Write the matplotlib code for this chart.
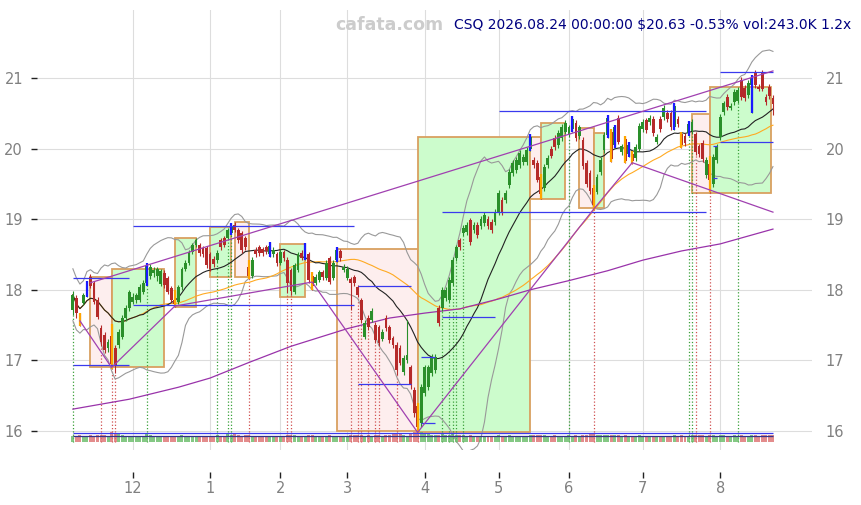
import numpy as np
import pandas as pd
import matplotlib.pyplot as plt
from matplotlib.patches import Rectangle

# -----------------------------
# Trading days (NYSE holidays removed)
# -----------------------------
holidays = ["2025-11-27", "2025-12-25", "2026-01-01", "2026-01-19", "2026-02-16",
            "2026-04-03", "2026-05-25", "2026-06-19", "2026-07-03"]
dates = pd.bdate_range("2025-11-05", "2026-08-24")
dates = dates[~dates.isin(pd.to_datetime(holidays))]

# -----------------------------
# Daily OHLC + volume (K)
# -----------------------------
opens = [
    17.72, 17.88, 17.62, 17.82, 17.93, 18.18, 18.10, 17.86, 17.46, 17.36,
    17.18, 17.35, 17.18, 17.22, 17.33, 17.60, 17.74, 17.83, 17.86, 17.86,
    17.97, 18.10, 18.20, 18.24, 18.20, 18.08, 18.24, 18.17, 18.03, 17.86,
    17.83, 18.04, 18.30, 18.38, 18.53, 18.63, 18.63, 18.59, 18.59, 18.50,
    18.44, 18.42, 18.70, 18.73, 18.73, 18.80, 18.92, 18.85, 18.80, 18.73,
    18.32, 18.20, 18.56, 18.60, 18.58, 18.60, 18.50, 18.50, 18.50, 18.38,
    18.54, 18.42, 18.28, 17.97, 18.28, 18.52, 18.45, 18.50, 18.20, 18.10,
    18.14, 18.25, 18.17, 18.45, 18.17, 18.42, 18.55, 18.28, 18.17, 18.15,
    18.18, 18.04, 17.86, 17.33, 17.60, 17.57, 17.50, 17.47, 17.30, 17.60,
    17.47, 17.32, 17.22, 17.18, 16.84, 17.00, 16.90, 16.58, 16.35, 16.11,
    16.54, 16.62, 16.82, 16.86, 17.74, 17.74, 17.88, 17.86, 18.10, 18.45,
    18.70, 18.80, 18.82, 18.99, 18.85, 18.92, 18.90, 18.95, 19.00, 18.96,
    18.96, 19.10, 19.27, 19.27, 19.48, 19.65, 19.70, 19.77, 19.81, 19.81,
    20.00, 19.84, 19.80, 19.60, 19.44, 19.77, 20.00, 20.15, 20.05, 20.15,
    20.24, 20.20, 20.28, 20.36, 20.18, 20.12, 19.80, 19.65, 19.44, 19.39,
    19.67, 19.98, 20.19, 20.24, 20.05, 20.43, 19.95, 20.14, 19.92, 19.93,
    19.87, 20.00, 20.28, 20.40, 20.38, 20.42, 20.10, 20.42, 20.45, 20.50,
    20.50, 20.30, 20.42, 20.20, 20.18, 20.22, 20.25, 20.20, 20.03, 20.08,
    19.62, 19.78, 19.50, 19.84, 20.16, 20.52, 20.73, 20.58, 20.66, 20.68,
    20.97, 20.86, 20.76, 20.90, 21.08, 20.87, 21.07, 20.73, 20.87, 20.72,
]
highs = [
    17.98, 17.92, 17.67, 17.96, 18.12, 18.22, 18.12, 17.90, 17.50, 17.40,
    17.30, 17.52, 17.22, 17.45, 17.64, 17.78, 18.00, 17.95, 17.96, 18.08,
    18.14, 18.38, 18.36, 18.32, 18.33, 18.30, 18.28, 18.20, 18.06, 18.00,
    18.07, 18.33, 18.42, 18.57, 18.66, 18.74, 18.66, 18.62, 18.62, 18.53,
    18.48, 18.56, 18.74, 18.76, 18.88, 18.94, 18.96, 18.88, 18.83, 18.76,
    18.42, 18.46, 18.60, 18.63, 18.61, 18.63, 18.68, 18.60, 18.53, 18.58,
    18.57, 18.46, 18.31, 18.38, 18.54, 18.56, 18.66, 18.53, 18.25, 18.22,
    18.28, 18.28, 18.42, 18.48, 18.42, 18.60, 18.58, 18.36, 18.34, 18.18,
    18.21, 18.07, 17.89, 17.57, 17.64, 17.74, 17.54, 17.50, 17.44, 17.64,
    17.50, 17.35, 17.26, 17.22, 17.07, 17.57, 16.94, 16.62, 16.40, 16.66,
    16.94, 16.94, 17.09, 17.09, 17.78, 18.04, 18.04, 18.18, 18.46, 18.64,
    18.74, 18.92, 18.96, 19.02, 18.96, 18.96, 19.04, 19.10, 19.04, 19.00,
    19.14, 19.41, 19.31, 19.41, 19.71, 19.84, 19.88, 19.98, 19.92, 20.02,
    20.20, 19.88, 19.84, 19.64, 19.78, 19.91, 20.04, 20.19, 20.26, 20.35,
    20.40, 20.34, 20.46, 20.40, 20.34, 20.16, 19.84, 19.69, 19.48, 19.64,
    19.88, 20.23, 20.47, 20.28, 20.34, 20.47, 20.07, 20.18, 20.09, 19.97,
    20.06, 20.36, 20.42, 20.44, 20.48, 20.46, 20.20, 20.46, 20.62, 20.54,
    20.54, 20.64, 20.46, 20.24, 20.22, 20.39, 20.42, 20.24, 20.07, 20.12,
    19.88, 19.90, 19.92, 20.06, 20.49, 20.68, 20.77, 20.65, 20.84, 20.87,
    21.01, 20.90, 20.97, 21.04, 21.12, 20.91, 21.11, 20.77, 20.91, 20.76,
]
lows = [
    17.65, 17.60, 17.49, 17.78, 17.90, 18.02, 17.80, 17.58, 17.20, 17.10,
    17.12, 16.88, 16.82, 17.18, 17.30, 17.56, 17.70, 17.80, 17.82, 17.83,
    17.94, 18.05, 18.16, 18.18, 18.12, 18.05, 18.03, 17.94, 17.83, 17.76,
    17.80, 18.00, 18.27, 18.35, 18.50, 18.60, 18.48, 18.46, 18.31, 18.26,
    18.32, 18.38, 18.56, 18.60, 18.70, 18.77, 18.82, 18.66, 18.52, 18.56,
    18.16, 18.17, 18.46, 18.48, 18.48, 18.51, 18.46, 18.47, 18.34, 18.35,
    18.41, 17.95, 17.93, 17.94, 18.25, 18.42, 18.42, 18.10, 18.00, 18.07,
    18.11, 18.14, 18.14, 18.08, 18.14, 18.40, 18.41, 18.25, 18.14, 17.72,
    18.06, 17.90, 17.53, 17.30, 17.43, 17.54, 17.25, 17.21, 17.27, 17.42,
    17.25, 17.18, 16.80, 16.93, 16.80, 16.96, 16.60, 16.20, 15.97, 16.06,
    16.50, 16.58, 16.78, 16.82, 17.49, 17.70, 17.84, 17.82, 18.06, 18.41,
    18.56, 18.76, 18.78, 18.64, 18.81, 18.74, 18.86, 18.91, 18.86, 18.81,
    18.92, 19.06, 19.06, 19.23, 19.44, 19.61, 19.66, 19.73, 19.77, 19.77,
    19.96, 19.73, 19.52, 19.28, 19.40, 19.73, 19.86, 19.98, 20.01, 20.11,
    20.20, 20.16, 20.24, 20.11, 20.14, 19.71, 19.46, 19.36, 19.13, 19.35,
    19.63, 19.94, 20.15, 19.81, 20.01, 20.06, 19.91, 19.79, 19.88, 19.78,
    19.83, 19.96, 20.24, 20.22, 20.34, 20.18, 20.06, 20.24, 20.41, 20.38,
    20.26, 20.26, 20.31, 20.01, 20.04, 20.18, 20.21, 19.91, 19.88, 19.81,
    19.58, 19.38, 19.46, 19.80, 20.12, 20.48, 20.55, 20.54, 20.62, 20.64,
    20.69, 20.68, 20.72, 20.50, 20.86, 20.82, 20.81, 20.62, 20.70, 20.48,
]
closes = [
    17.93, 17.67, 17.60, 17.93, 18.10, 18.05, 17.83, 17.61, 17.26, 17.15,
    17.26, 16.95, 16.92, 17.40, 17.60, 17.74, 17.97, 17.90, 17.93, 18.04,
    18.10, 18.35, 18.32, 18.28, 18.30, 18.27, 18.07, 17.97, 17.86, 17.80,
    18.04, 18.30, 18.38, 18.54, 18.63, 18.70, 18.52, 18.50, 18.35, 18.30,
    18.36, 18.52, 18.60, 18.63, 18.85, 18.90, 18.85, 18.70, 18.56, 18.60,
    18.20, 18.42, 18.50, 18.52, 18.52, 18.55, 18.62, 18.56, 18.38, 18.54,
    18.45, 18.10, 17.98, 18.35, 18.50, 18.45, 18.63, 18.14, 18.05, 18.18,
    18.25, 18.18, 18.38, 18.11, 18.38, 18.56, 18.45, 18.32, 18.30, 18.10,
    18.10, 17.93, 17.57, 17.53, 17.47, 17.70, 17.29, 17.25, 17.40, 17.46,
    17.29, 17.22, 16.86, 16.97, 17.03, 17.08, 16.65, 16.25, 16.05, 16.62,
    16.90, 16.90, 17.05, 17.05, 17.53, 18.00, 18.00, 18.14, 18.42, 18.60,
    18.60, 18.88, 18.92, 18.68, 18.92, 18.78, 19.00, 19.06, 18.90, 18.85,
    19.10, 19.37, 19.10, 19.37, 19.67, 19.80, 19.84, 19.94, 19.88, 19.98,
    20.16, 19.77, 19.56, 19.36, 19.74, 19.87, 19.90, 20.02, 20.22, 20.31,
    20.36, 20.30, 20.42, 20.15, 20.30, 19.75, 19.50, 19.40, 19.20, 19.60,
    19.84, 20.19, 20.43, 19.85, 20.30, 20.10, 20.03, 19.83, 20.05, 19.82,
    20.02, 20.32, 20.38, 20.26, 20.44, 20.22, 20.16, 20.28, 20.58, 20.42,
    20.30, 20.60, 20.35, 20.05, 20.08, 20.35, 20.38, 19.95, 19.92, 19.85,
    19.84, 19.55, 19.88, 20.02, 20.45, 20.64, 20.59, 20.61, 20.80, 20.83,
    20.73, 20.72, 20.93, 21.00, 20.90, 20.85, 20.85, 20.66, 20.74, 20.63,
]
volumes = [
    210, 190, 230, 200, 220, 240, 210, 230, 260, 250,
    220, 330, 310, 280, 230, 200, 210, 190, 200, 210,
    220, 300, 230, 210, 200, 220, 210, 200, 190, 220,
    210, 260, 220, 200, 210, 190, 200, 180, 210, 220,
    200, 240, 210, 200, 300, 260, 280, 240, 220, 230,
    250, 210, 200, 190, 200, 210, 220, 200, 210, 190,
    220, 260, 250, 230, 210, 200, 220, 240, 230, 200,
    190, 210, 200, 230, 210, 200, 220, 210, 200, 240,
    230, 250, 260, 220, 240, 210, 250, 260, 220, 240,
    250, 270, 300, 280, 230, 220, 320, 350, 380, 330,
    300, 280, 260, 240, 260, 280, 250, 260, 270, 250,
    230, 240, 220, 250, 210, 220, 200, 210, 220, 200,
    210, 230, 220, 200, 230, 220, 210, 200, 190, 210,
    240, 230, 250, 260, 240, 210, 220, 230, 210, 200,
    210, 230, 220, 230, 200, 250, 260, 270, 280, 240,
    230, 240, 250, 260, 230, 240, 210, 230, 220, 220,
    210, 230, 200, 210, 190, 220, 200, 210, 220, 200,
    210, 230, 200, 240, 210, 220, 230, 250, 240, 230,
    220, 260, 230, 220, 240, 230, 220, 200, 230, 220,
    250, 220, 210, 260, 240, 220, 230, 250, 260, 243,
]

# highlighted candles and signal bars
blue_marks = [4, 21, 45, 56, 66, 75, 130, 142, 152, 154, 158, 171, 175, 193]
orange_marks = [2, 11, 29, 50, 68, 98, 133, 148, 153, 157, 159, 173, 181]
buy_signals = [0, 21, 41, 44, 45, 105, 107, 108, 109, 111, 141, 175, 176, 189]
sell_signals = [8, 11, 12, 50, 61, 62, 79, 81, 82, 84, 86, 87, 92, 98, 148, 177, 181]

# consolidation boxes: start bar, end bar, top, bottom, kind
box_start = [5, 11, 29, 39, 46, 59, 75, 98, 130, 133, 144, 148, 176, 181]
box_end = [11, 26, 35, 45, 50, 66, 98, 130, 133, 140, 148, 151, 181, 198.5]
box_top = [18.18, 18.30, 18.73, 18.89, 18.96, 18.65, 18.58, 20.16, 20.16, 20.36,
           20.29, 20.22, 20.49, 20.87]
box_bottom = [16.90, 16.90, 17.76, 18.18, 18.18, 17.90, 16.00, 15.99, 19.28, 19.28,
              19.16, 19.16, 19.37, 19.37]
box_kind = ["down", "up", "up", "up", "down", "up", "down", "up", "down", "up",
            "down", "up", "down", "up"]

# support / resistance levels
level_start = [0, 0, 17, 17, 81, 81, 99, 99, 105, 105, 121, 184, 184, 182, 182]
level_end = [16, 16, 80, 80, 96, 96, 103, 103, 120, 180, 180, 199, 199, 183, 183]
level_price = [18.17, 16.93, 18.90, 17.78, 18.05, 16.66, 17.05, 16.11, 17.61, 19.10,
               20.53, 21.08, 20.10, 20.03, 19.58]

# zigzag pivots and channel line
pivot_bar = [2, 11, 29, 68, 98, 148, 159, 199]
pivot_price = [17.56, 16.90, 17.77, 18.11, 15.98, 19.14, 19.80, 19.10]
channel_bar = [5, 199]
channel_price = [18.10, 21.10]

# long moving average (read at intervals)
long_ma_bar = [0, 16, 30, 39, 50, 62, 78, 90, 100, 110, 121, 130, 141, 152, 162, 173, 184, 199]
long_ma = [16.31, 16.45, 16.62, 16.75, 16.97, 17.20, 17.45, 17.60, 17.67, 17.73,
           17.87, 18.00, 18.13, 18.27, 18.42, 18.55, 18.65, 18.86]

# -----------------------------
# Indicators
# -----------------------------
close_s = pd.Series(closes)
sma20 = close_s.rolling(20, min_periods=1).mean()
std20 = close_s.rolling(20, min_periods=2).std().bfill()
sma50 = close_s.rolling(50, min_periods=1).mean()
idx = np.arange(len(closes))

# -----------------------------
# Figure
# -----------------------------
fig = plt.figure(figsize=(8.61, 5.05), dpi=100)
ax = fig.add_axes([37 / 861, 55 / 505, 775 / 861, 440 / 505])

GREEN = "#2a8f2a"
RED = "#b52a2a"

for s, e, t, b, k in zip(box_start, box_end, box_top, box_bottom, box_kind):
    face = "#ccfccc" if k == "up" else "#fdeeee"
    ax.add_patch(Rectangle((s, b), e - s, t - b, facecolor=face,
                           edgecolor="#d9a060", lw=1.3, zorder=1))

# signal dotted lines
for i in buy_signals:
    ax.vlines(i, 15.845, lows[i], colors="#3aa03a", linestyles=":", lw=0.9, zorder=2)
for i in sell_signals:
    ax.vlines(i, 15.845, lows[i], colors="#d05050", linestyles=":", lw=0.9, zorder=2)

# indicator lines
ax.plot(idx, sma20 + 2 * std20, color="#999999", lw=0.8, zorder=2)
ax.plot(idx, sma20 - 2 * std20, color="#999999", lw=0.8, zorder=2)
ax.plot(idx, sma50, color="#ffaa22", lw=0.8, zorder=2)
ax.plot(idx, sma20, color="#222222", lw=0.8, zorder=2)
ax.plot(long_ma_bar, long_ma, color="#9933aa", lw=0.9, zorder=2)

# candles
colors = [GREEN if c >= o else RED for o, c in zip(opens, closes)]
ax.vlines(idx, lows, highs, colors=colors, lw=0.8, zorder=3)
body_low = np.minimum(opens, closes)
body_h = np.maximum(np.abs(np.array(closes) - np.array(opens)), 0.01)
ax.bar(idx, body_h, bottom=body_low, width=0.8, color=colors, zorder=3)
for i in blue_marks:
    ax.vlines(i, lows[i], highs[i], colors="#1a1aff", lw=1.6, zorder=4)
for i in orange_marks:
    ax.vlines(i, lows[i], highs[i], colors="#ffa500", lw=1.6, zorder=4)

# levels and trend lines
for s, e, p in zip(level_start, level_end, level_price):
    ax.hlines(p, s, e, colors="#3a3aee", lw=0.9, zorder=5)
ax.plot(pivot_bar, pivot_price, color="#a040b0", lw=0.9, zorder=5)
ax.plot(channel_bar, channel_price, color="#a040b0", lw=0.9, zorder=5)

# volume strip
vmax = max(volumes)
vh = np.array(volumes) / vmax * 0.16
ax.bar(idx, vh, bottom=15.84, width=0.85,
       color=["#66bb66" if c == GREEN else "#dd7070" for c in colors], alpha=0.8, zorder=3)
ax.hlines([15.972, 15.93], 0, len(closes) - 1, colors=["#3a3aee", "#333388"], lw=0.9, zorder=5)

# -----------------------------
# Axes formatting
# -----------------------------
ax.set_xlim(-10.2, 210.1)
ax.set_ylim(15.731, 21.963)

month_pos = [i for i in range(1, len(dates)) if dates[i].month != dates[i - 1].month]
ax.set_xticks(month_pos)
ax.set_xticklabels([str(dates[i].month) for i in month_pos])
ax.set_yticks([16, 17, 18, 19, 20, 21])

for sp in ax.spines.values():
    sp.set_visible(False)
ax.spines["bottom"].set_position(("outward", 16))

ax.grid(True, color="#dddddd", lw=0.8, zorder=0)
ax.set_axisbelow(True)
ax.tick_params(axis="x", length=4, width=1, color="#222222", labelcolor="#808080",
               labelsize=10.5, pad=2.5)
ax.tick_params(axis="y", left=True, right=False, labelleft=True, labelright=True,
               length=4, width=1, color="#222222", labelcolor="#808080",
               labelsize=10.5, pad=6)

fig.text(389 / 861, 1 - 25 / 505, "cafata.com", ha="center", va="center",
         color="#cccccc", fontsize=12.5, fontweight="bold")
fig.text(851 / 861, 1 - 25 / 505, "CSQ 2026.08.24 00:00:00 $20.63 -0.53% vol:243.0K 1.2x",
         ha="right", va="center", color="#000080", fontsize=10)

fig.savefig("out.png", dpi=100)
